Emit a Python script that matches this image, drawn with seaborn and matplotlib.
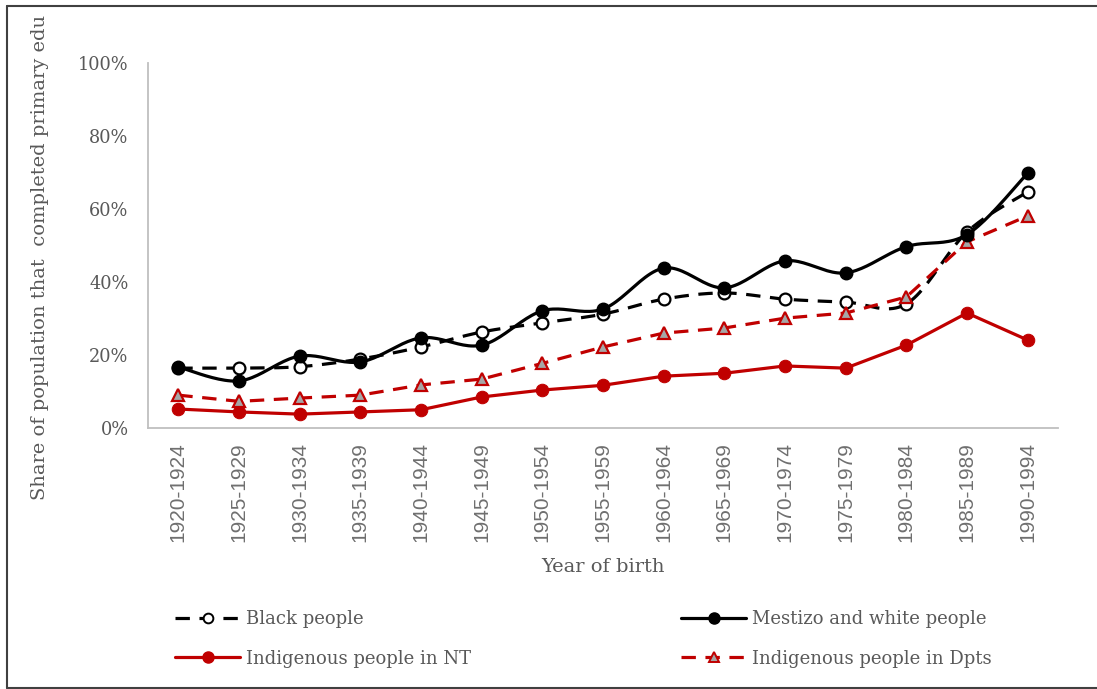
import numpy as np
import pandas as pd
import matplotlib
matplotlib.use("Agg")
import matplotlib.pyplot as plt
from matplotlib.lines import Line2D
import seaborn as sns

# Birth cohorts and share of each group that completed primary education
cohorts = ["1920-1924", "1925-1929", "1930-1934", "1935-1939", "1940-1944",
           "1945-1949", "1950-1954", "1955-1959", "1960-1964", "1965-1969",
           "1970-1974", "1975-1979", "1980-1984", "1985-1989", "1990-1994"]
black = [0.164, 0.164, 0.168, 0.189, 0.222, 0.263, 0.288, 0.312, 0.353, 0.370,
         0.353, 0.345, 0.340, 0.537, 0.647]
mestizo_white = [0.167, 0.129, 0.197, 0.181, 0.247, 0.227, 0.321, 0.326, 0.438,
                 0.384, 0.458, 0.425, 0.497, 0.530, 0.698]
indigenous_nt = [0.052, 0.044, 0.038, 0.044, 0.050, 0.085, 0.104, 0.117, 0.142,
                 0.150, 0.170, 0.164, 0.227, 0.315, 0.241]
indigenous_dpts = [0.090, 0.073, 0.082, 0.090, 0.118, 0.134, 0.177, 0.222, 0.260,
                   0.274, 0.301, 0.315, 0.359, 0.510, 0.581]

RED = "#C00000"
GREY_TXT = "#595959"
AXIS_GREY = "#BFBFBF"
TRI_FILL = "#A6A6A6"
SERIF = ["DejaVu Serif"]
SANS = ["Liberation Sans"]


def smooth(values, n=24):
    """Cubic Bezier smoothing through every point (Catmull-Rom style)."""
    y = np.asarray(values, float)
    x = np.arange(len(y), dtype=float)
    pts = np.column_stack([x, y])
    ext = np.vstack([pts[0], pts, pts[-1]])
    out = [pts[0]]
    t = np.linspace(0, 1, n)[1:, None]
    for i in range(len(pts) - 1):
        p0, p3 = ext[i + 1], ext[i + 2]
        c1 = p0 + (ext[i + 2] - ext[i]) / 6.0
        c2 = p3 - (ext[i + 3] - ext[i + 1]) / 6.0
        seg = ((1 - t) ** 3) * p0 + 3 * ((1 - t) ** 2) * t * c1 \
            + 3 * (1 - t) * t ** 2 * c2 + t ** 3 * p3
        out.extend(seg)
    out = np.array(out)
    return out[:, 0], out[:, 1]


sns.set_theme(style="white")
plt.rcParams["font.family"] = SERIF

W, H = 1097, 689
fig = plt.figure(figsize=(W / 100, H / 100), dpi=100)
ax = fig.add_axes([148 / W, 1 - 428 / H, (1058 - 148) / W, (428 - 63) / H])

xpos = np.arange(len(cohorts))
LW = 2.3
DASH = (4.5, 3.0)

# Black people: smoothed dashed line with open circles
sx, sy = smooth(black)
sns.lineplot(x=sx, y=sy, ax=ax, color="black", lw=LW, sort=False,
             linestyle=(0, DASH), zorder=3)
ax.plot(xpos, black, linestyle="none", marker="o", ms=8.5, mfc="white",
        mec="black", mew=1.6, zorder=4)

# Mestizo and white people: smoothed solid line with filled circles
sx, sy = smooth(mestizo_white)
sns.lineplot(x=sx, y=sy, ax=ax, color="black", lw=LW, sort=False, zorder=5)
ax.plot(xpos, mestizo_white, linestyle="none", marker="o", ms=9,
        color="black", zorder=6)

# Indigenous people in departments: dashed red line with grey triangles
sns.lineplot(x=xpos, y=indigenous_dpts, ax=ax, color=RED, lw=LW,
             linestyle=(0, DASH), zorder=3)
ax.plot(xpos, indigenous_dpts, linestyle="none", marker="^", ms=8.5,
        mfc=TRI_FILL, mec=RED, mew=1.6, zorder=4)

# Indigenous people in national territories: solid red line with dots
sns.lineplot(x=xpos, y=indigenous_nt, ax=ax, color=RED, lw=LW,
             marker="o", ms=9, mec=RED, zorder=3)

ax.set_xlim(-0.5, len(cohorts) - 0.5)
ax.set_ylim(0, 1)
ax.set_yticks(np.arange(0, 1.01, 0.2))
ax.set_yticklabels([f"{int(round(v * 100))}%" for v in np.arange(0, 1.01, 0.2)],
                   fontsize=12.8, color=GREY_TXT, family=SERIF)
ax.set_xticks(xpos)
ax.set_xticklabels(cohorts, rotation=90, fontsize=15, color="#6F6F6F",
                   family=SANS)
ax.tick_params(axis="both", length=0)
ax.tick_params(axis="x", pad=10)
ax.tick_params(axis="y", pad=14)
ax.set_xlabel("")
ax.set_ylabel("")
for side in ("top", "right"):
    ax.spines[side].set_visible(False)
for side in ("left", "bottom"):
    ax.spines[side].set_color(AXIS_GREY)
    ax.spines[side].set_linewidth(1.3)
ax.grid(False)

fig.text(40 / W, 1 - 257 / H, "Share of population that  completed primary edu",
         rotation=90, ha="center", va="center", fontsize=14, color=GREY_TXT,
         family=SERIF)
fig.text(603 / W, 1 - 567 / H, "Year of birth", ha="center", va="center",
         fontsize=14, color=GREY_TXT, family=SERIF)

# Legend in two columns
h_black = Line2D([], [], color="black", lw=LW, linestyle=(0, DASH), marker="o",
                 ms=7, mfc="white", mec="black", mew=1.4)
h_mest = Line2D([], [], color="black", lw=LW, marker="o", ms=8)
h_nt = Line2D([], [], color=RED, lw=LW, marker="o", ms=8)
h_dpts = Line2D([], [], color=RED, lw=LW, linestyle=(0, DASH), marker="^",
                ms=7, mfc=TRI_FILL, mec=RED, mew=1.4)

leg_kw = dict(loc="upper left", frameon=False, fontsize=13, handlelength=3.6,
              handletextpad=0.35, labelspacing=1.2, borderpad=0,
              borderaxespad=0, labelcolor=GREY_TXT, markerfirst=True,
              prop={"family": SERIF, "size": 13})
leg_kw.pop("fontsize")
fig.legend([h_black, h_nt], ["Black people", "Indigenous people in NT"],
           bbox_to_anchor=(175 / W, 1 - 610 / H), **leg_kw)
fig.legend([h_mest, h_dpts], ["Mestizo and white people",
                              "Indigenous people in Dpts"],
           bbox_to_anchor=(681 / W, 1 - 610 / H), **leg_kw)

# Outer frame lines
frame_kw = dict(transform=fig.transFigure, color="#404040", lw=1.5)
fig.add_artist(Line2D([7 / W, 1], [1 - 6 / H, 1 - 6 / H], **frame_kw))
fig.add_artist(Line2D([7 / W, 7 / W], [1 - 6 / H, 1 - 688 / H], **frame_kw))
fig.add_artist(Line2D([7 / W, 1], [1 - 687.5 / H, 1 - 687.5 / H], **frame_kw))

fig.savefig("out.png", dpi=100, facecolor="white")
